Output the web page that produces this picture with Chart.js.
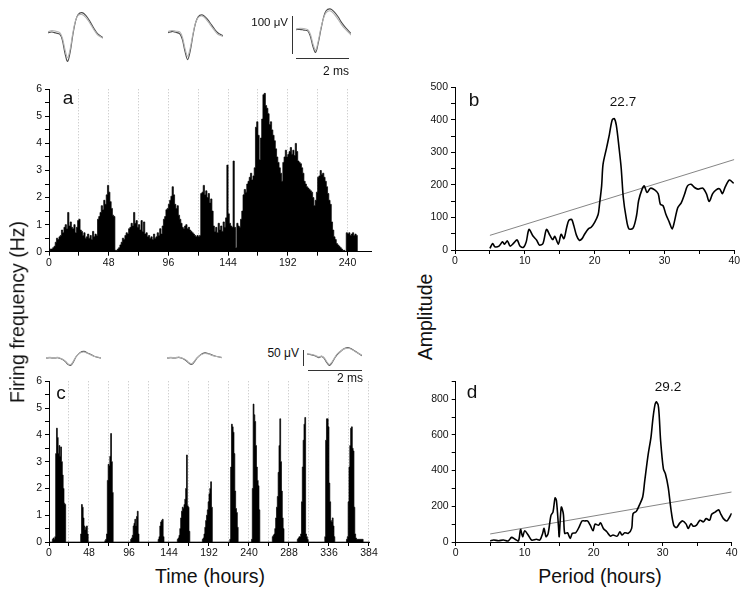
<!DOCTYPE html>
<html>
<head>
<meta charset="utf-8">
<script src="https://cdn.jsdelivr.net/npm/chart.js@4.4.0/dist/chart.umd.min.js"></script>
<style>
    body { margin: 0; background: #fff; }
    #figura { position: relative; width: 749px; height: 597px; overflow: hidden; font-family: "Liberation Sans", Arial, sans-serif; color: #111; }
    #figura canvas { position: absolute; }
    .txt { position: absolute; white-space: nowrap; line-height: 1; transform: translate(-50%, -50%); }
    .der { position: absolute; white-space: nowrap; line-height: 1; transform: translate(-100%, -50%); }
    .vert { position: absolute; white-space: nowrap; line-height: 1; transform: translate(-50%, -50%) rotate(-90deg); font-size: 19.5px; }
    .barra { position: absolute; background: #333; }
</style>
</head>
<body>
<div id="figura">
    <canvas id="ondaA1" width="55" height="53" style="left:48px;top:10px"></canvas>
    <canvas id="ondaA2" width="55" height="53" style="left:168px;top:10px"></canvas>
    <canvas id="ondaA3" width="55" height="53" style="left:296px;top:7px"></canvas>
    <canvas id="ondaC1" width="55" height="21" style="left:46px;top:349px"></canvas>
    <canvas id="ondaC2" width="55" height="21" style="left:167px;top:349px"></canvas>
    <canvas id="ondaC3" width="55" height="21" style="left:307px;top:345px"></canvas>

    <canvas id="graficoA" width="380" height="195" style="left:0;top:80px"></canvas>
    <canvas id="graficoC" width="380" height="190" style="left:0;top:372px"></canvas>
    <canvas id="graficoB" width="345" height="195" style="left:400px;top:78px"></canvas>
    <canvas id="graficoD" width="345" height="190" style="left:400px;top:372px"></canvas>

    <div class="barra" style="left:292px;top:16px;width:1.4px;height:38px"></div>
    <div class="barra" style="left:296px;top:58px;width:53px;height:1.4px"></div>
    <div class="der" style="left:288px;top:23px;font-size:11.5px">100 μV</div>
    <div class="der" style="left:349px;top:71px;font-size:12px">2 ms</div>

    <div class="barra" style="left:303px;top:350px;width:1.4px;height:16px"></div>
    <div class="barra" style="left:308px;top:370px;width:54px;height:1.4px"></div>
    <div class="der" style="left:299px;top:353px;font-size:12px">50 μV</div>
    <div class="der" style="left:363px;top:378px;font-size:12px">2 ms</div>

    <div class="txt" style="left:68px;top:97px;font-size:19px">a</div>
    <div class="txt" style="left:474px;top:99px;font-size:19px">b</div>
    <div class="txt" style="left:61px;top:392px;font-size:19px">c</div>
    <div class="txt" style="left:472px;top:391px;font-size:19px">d</div>
    <div class="txt" style="left:623px;top:102px;font-size:13.5px">22.7</div>
    <div class="txt" style="left:668px;top:387px;font-size:13.5px">29.2</div>

    <div class="vert" style="left:18px;top:312px">Firing frequency (Hz)</div>
    <div class="vert" style="left:426px;top:317px">Amplitude</div>
    <div class="txt" style="left:210px;top:577px;font-size:19.5px">Time (hours)</div>
    <div class="txt" style="left:600px;top:577px;font-size:19.5px">Period (hours)</div>
</div>
<script>
// panel a: frecuencia por hora (Hz), una fila por dia
const horasA = [
    0.05, 0.1, 0.1, 0.15, 0.2, 0.35, 0.5, 0.45, 0.55, 0.6, 0.8, 0.7, 0.9, 1.0, 0.85, 1.45, 0.95, 1.1, 0.9, 0.85, 1.0, 0.7, 0.9, 1.15,
    1.2, 0.8, 0.75, 0.6, 0.7, 0.5, 0.55, 0.65, 0.5, 0.6, 0.45, 0.75, 0.55, 0.65, 0.6, 1.2, 1.3, 1.45, 1.7, 1.55, 1.9, 1.75, 2.1, 2.45,
    2.2, 1.85, 1.6, 1.35, 1.3, 0.05, 0.05, 0.1, 0.15, 0.25, 0.35, 0.5, 0.45, 0.6, 0.7, 0.65, 0.85, 0.9, 1.05, 0.95, 1.45, 1.05, 1.15, 0.9,
    1.0, 0.8, 1.15, 0.75, 1.1, 0.65, 0.7, 0.55, 0.6, 0.5, 0.55, 0.45, 0.65, 0.5, 0.55, 0.7, 0.6, 0.85, 0.65, 0.95, 1.2, 1.3, 1.55, 1.6,
    1.75, 1.9, 2.05, 2.4, 2.1, 1.75, 1.6, 1.7, 1.35, 1.2, 1.05, 0.9, 0.85, 0.95, 1.0, 0.85, 0.9, 0.8, 0.75, 0.7, 0.65, 0.6, 0.55, 0.6,
    0.55, 0.6, 2.15, 2.2, 2.45, 2.1, 2.25, 2.0, 2.15, 1.8, 1.95, 1.5, 0.95, 0.75, 0.9, 0.7, 1.05, 0.8, 0.95, 0.75, 1.1, 0.9, 1.25, 3.2,
    1.4, 1.05, 0.95, 0.9, 3.35, 0.9, 0.15, 1.05, 0.95, 0.9, 1.2, 1.5, 2.1, 2.3, 2.2, 2.5, 2.6, 2.75, 2.9, 2.65, 2.8, 3.1, 4.6, 4.8,
    4.3, 3.4, 4.2, 4.9, 5.8, 5.85, 5.4, 5.3, 5.1, 4.7, 4.8, 4.5, 4.3, 4.1, 3.8, 3.5, 3.3, 3.1, 2.9, 2.6, 3.3, 3.5, 3.75, 3.5,
    3.6, 3.7, 3.85, 3.6, 3.75, 3.55, 4.0, 3.7, 3.35, 3.3, 3.25, 3.1, 2.9, 2.6, 2.5, 2.4, 2.35, 2.3, 2.25, 2.2, 2.0, 1.7, 1.9, 2.2,
    2.75, 2.8, 3.0, 2.85, 2.9, 2.75, 2.6, 2.4, 2.15, 1.9, 1.75, 1.1, 0.8, 0.55, 0.45, 0.3, 0.25, 0.2, 0.15, 0.1, 0.05, 0.05, 0, 0.7,
    0.65, 0.7, 0.6, 0.65, 0.7, 0.6, 0.65, 0.6
];

// panel c: brotes de actividad (hora de inicio y valores por hora)
const inicioBrotesC = [4, 38, 67, 98, 131, 154, 184, 217, 243, 268, 298, 331, 357];
const brotesC = [
    [0.1, 0.15, 0.1, 0.2, 3.3, 4.25, 3.9, 3.3, 3.6, 3.2, 3.55, 3.0, 2.5, 2.0, 1.45, 1.4],
    [0.3, 1.4, 1.3, 0.9, 0.6, 0.45, 0.55, 0.6, 0.3],
    [0.05, 0.1, 0.3, 2.3, 2.9, 2.85, 3.2, 4.05, 3.0, 1.85],
    [0.1, 0.15, 0.25, 0.6, 0.7, 0.85, 0.6, 0.95, 1.15, 0.3],
    [0.1, 0.2, 0.6, 0.75, 0.8, 0.85, 0.2],
    [0.1, 0.15, 0.25, 0.5, 0.9, 1.15, 1.3, 1.25, 1.4, 1.6, 2.0, 3.25, 1.35, 1.3, 0.4],
    [0.1, 0.15, 0.3, 0.55, 0.8, 1.0, 1.2, 1.5, 1.8, 2.0, 2.25, 1.3],
    [0.1, 2.8, 4.4, 4.3, 4.1, 3.3, 1.9, 1.25, 1.1, 0.55],
    [0.1, 2.0, 5.15, 4.75, 4.5, 3.6, 2.8, 2.3, 2.1, 1.2],
    [0.2, 0.25, 0.3, 0.5, 0.9, 1.3, 1.7, 2.6, 3.6, 4.6, 3.0, 1.9, 0.9, 0.5],
    [0.1, 0.15, 0.2, 0.2, 0.3, 1.5, 2.8, 3.8, 4.4, 4.65, 0.3, 0.2, 0.1],
    [0.2, 3.8, 4.6, 4.6, 4.3, 2.2, 1.5, 0.8, 0.75, 0.9, 0.6, 0.2],
    [0.1, 0.2, 1.5, 2.8, 3.6, 4.25, 4.3, 3.5, 3.4, 1.3, 0.3, 0.15, 0.1, 0.1, 0.1, 0.1, 0.1, 0.1, 0.1, 0.1]
];
const totalHorasC = 386;

// panel b: periodograma
const periodoB = [5.0, 5.4, 5.7, 6.3, 6.8, 7.1, 7.5, 7.9, 8.4, 8.9, 9.3, 9.8, 10.2, 10.6, 11.2, 11.7, 12.1, 12.6, 13.1, 13.6,
    14.0, 14.3, 14.8, 15.2, 15.6, 16.0, 16.3, 16.7, 17.0, 17.4, 17.8, 18.2, 18.6, 19.1, 19.5, 20.0, 20.5, 20.7, 21.0, 21.2,
    21.7, 22.1, 22.5, 22.8, 23.1, 23.5, 23.8, 24.1, 24.5, 24.9, 25.5, 26.0, 26.3, 26.8, 27.1, 27.5, 28.0, 28.6, 29.1, 29.4,
    29.8, 30.2, 30.7, 31.1, 31.4, 31.9, 32.4, 32.9, 33.3, 33.8, 34.3, 34.8, 35.5, 36.0, 36.4, 36.9, 37.4, 37.9, 38.3, 38.7, 39.3, 39.9];
const amplitudB = [5, 20, 10, 12, 25, 18, 28, 12, 21, 31, 12, 8, 25, 63, 42, 30, 15, 20, 63, 45,
    32, 42, 18, 48, 35, 70, 91, 94, 76, 45, 30, 35, 50, 65, 70, 85, 109, 141, 197, 263,
    313, 354, 399, 404, 384, 313, 252, 162, 101, 65, 67, 106, 152, 187, 197, 177, 190, 185, 173, 141,
    136, 110, 85, 65, 85, 130, 145, 173, 197, 202, 192, 187, 190, 173, 149, 173, 185, 188, 173, 194, 215, 205];

// panel d: periodograma
const periodoD = [5.0, 5.5, 6.2, 6.9, 7.6, 8.1, 8.6, 9.1, 9.4, 9.7, 10.0, 10.5, 11.0, 11.7, 12.2, 12.6, 12.8, 13.1, 13.4, 13.8,
    14.1, 14.4, 14.6, 14.9, 15.0, 15.3, 15.6, 15.8, 16.2, 16.6, 16.9, 17.4, 17.9, 18.3, 18.7, 19.1, 19.5, 19.9, 20.2, 20.7,
    21.0, 21.4, 21.9, 22.4, 22.8, 23.4, 23.8, 24.1, 24.5, 25.0, 25.5, 25.7, 26.2, 26.6, 27.1, 27.4, 27.9, 28.3, 28.6, 28.9,
    29.1, 29.4, 29.7, 30.1, 30.4, 30.8, 31.2, 31.6, 32.0, 32.5, 32.9, 33.4, 33.7, 34.1, 34.4, 34.9, 35.4, 35.9, 36.3, 36.8,
    37.1, 37.6, 38.1, 38.4, 38.8, 39.3, 39.7, 40.0];
const amplitudD = [6, 11, 7, 11, 6, 26, 15, 7, 70, 30, 63, 39, 11, 15, 11, 48, 76, 30, 48, 148,
    167, 247, 232, 85, 30, 195, 158, 48, 52, 20, 48, 52, 85, 118, 118, 118, 94, 63, 100, 94,
    107, 76, 57, 33, 39, 33, 57, 39, 52, 48, 76, 158, 173, 205, 252, 344, 492, 586, 697, 772,
    785, 753, 567, 409, 381, 306, 182, 94, 81, 107, 118, 100, 76, 103, 89, 94, 122, 113, 131, 122,
    155, 167, 180, 158, 131, 118, 140, 161];

// linea de significancia
const umbralX = [5, 40];
const umbralB = [45, 278];
const umbralD = [45, 280];

// formas de onda (ms, µV): trazo claro y trazo oscuro
const ondaT = [0, 0.15, 0.3, 0.45, 0.55, 0.65, 0.75, 0.85, 0.95, 1.05, 1.15, 1.3, 1.45, 1.6, 1.75, 1.9, 2.1];
const ondaA1 = [[2, 6, 4, 0, -14, -45, -66, -42, 0, 32, 46, 48, 40, 25, 8, -6, -15], [0, 2, -1, -4, -20, -55, -76, -50, -5, 30, 48, 53, 45, 30, 12, -3, -13]];
const ondaA2 = [[3, 6, 4, 2, -12, -42, -62, -40, -4, 26, 40, 44, 36, 22, 8, -4, -10], [0, 3, 1, -3, -18, -50, -71, -48, -8, 25, 42, 47, 40, 27, 12, 0, -8]];
const ondaA3 = [[2, 4, 3, 0, -12, -38, -54, -30, 4, 30, 45, 50, 42, 28, 12, 0, -14], [0, 1, -1, -3, -18, -45, -60, -35, 0, 32, 50, 55, 48, 35, 18, 5, -10]];
const ondaC1 = [[1, 2, 1, 2, -1, -5, -11, -20, -22, -10, 5, 17, 20, 15, 9, 4, 1], [0, 1, 0, 1, -2, -6, -13, -22, -24, -12, 4, 18, 22, 16, 10, 4, 0]];
const ondaC2 = [[1, 2, 1, 3, 1, -3, -8, -16, -19, -10, 1, 11, 15, 13, 8, 5, 2], [0, 1, 0, 2, 0, -4, -10, -18, -21, -12, 0, 12, 17, 14, 9, 5, 1]];
const ondaC3 = [[1, -1, -4, -10, -7, -12, -25, -35, -27, -13, 0, 11, 18, 19, 13, 5, -4], [0, -2, -6, -12, -8, -14, -28, -38, -30, -15, -2, 10, 19, 21, 14, 6, -6]];

Chart.defaults.font.family = "'Liberation Sans', Arial, sans-serif";
Chart.defaults.color = "#111";

const fuenteTicks = { size: 10.5 };
const opcionesBase = {
    responsive: false,
    animation: false,
    events: [],
    plugins: { legend: { display: false }, tooltip: { enabled: false } }
};

function ejeY(max, paso, cadaEtiqueta, ancho) {
    return {
        min: 0, max: max,
        ticks: { stepSize: paso, autoSkip: false, includeBounds: false, padding: 3, font: fuenteTicks,
            callback: v => (v % cadaEtiqueta === 0 && v + paso <= max + 1e-6) || v === max && max % cadaEtiqueta === 0 ? v : "" },
        grid: { drawOnChartArea: false, tickColor: "#000", tickLength: 4 },
        border: { color: "#000", width: 1 },
        afterFit: s => { s.width = ancho; }
    };
}

function graficoHistograma(id, valores, xMax, ancho, altoX, padding) {
    const puntos = valores.map((v, h) => ({ x: h, y: v }));
    puntos.push({ x: valores.length, y: 0 });
    return new Chart(document.getElementById(id), {
        type: "line",
        data: {
            datasets: [{
                data: puntos,
                stepped: true,
                fill: "origin",
                backgroundColor: "#000",
                borderColor: "#000",
                borderWidth: 0.7,
                pointRadius: 0
            }]
        },
        options: {
            ...opcionesBase,
            layout: { padding: padding },
            scales: {
                x: {
                    type: "linear", min: 0, max: xMax,
                    afterBuildTicks: s => { s.ticks = s.ticks.filter(t => t.value % 24 === 0); },
                    ticks: { stepSize: 24, autoSkip: false, includeBounds: false, maxRotation: 0, padding: 1, font: fuenteTicks,
                        callback: v => v % 48 === 0 ? v : "" },
                    grid: {
                        color: ctx => ctx.tick && ctx.tick.value > 0 ? "#bdbdbd" : "rgba(0,0,0,0)",
                        lineWidth: 1, tickColor: "#000", tickLength: 4
                    },
                    border: { color: "#000", width: 1, dash: [1, 2] },
                    afterFit: s => { s.height = altoX; }
                },
                y: ejeY(6, 0.5, 1, ancho)
            }
        }
    });
}

function graficoPeriodo(id, periodos, amplitudes, umbral, yMax, yPaso, yEtiqueta, ancho, altoX, padding) {
    return new Chart(document.getElementById(id), {
        type: "line",
        data: {
            datasets: [{
                data: periodos.map((p, i) => ({ x: p, y: amplitudes[i] })),
                borderColor: "#000",
                borderWidth: 1.6,
                pointRadius: 0,
                tension: 0.3
            }, {
                data: umbralX.map((p, i) => ({ x: p, y: umbral[i] })),
                borderColor: "#777",
                borderWidth: 0.9,
                pointRadius: 0
            }]
        },
        options: {
            ...opcionesBase,
            layout: { padding: padding },
            scales: {
                x: {
                    type: "linear", min: 0, max: 40,
                    ticks: { stepSize: 5, autoSkip: false, maxRotation: 0, padding: 1, font: fuenteTicks,
                        callback: v => v % 10 === 0 ? v : "" },
                    grid: { drawOnChartArea: false, tickColor: "#000", tickLength: 4 },
                    border: { color: "#000", width: 1 },
                    afterFit: s => { s.height = altoX; }
                },
                y: ejeY(yMax, yPaso, yEtiqueta, ancho)
            }
        }
    });
}

function graficoOnda(id, trazos, yMin, yMax) {
    return new Chart(document.getElementById(id), {
        type: "line",
        data: {
            datasets: trazos.map((trazo, i) => ({
                data: trazo.map((v, k) => ({ x: ondaT[k], y: v })),
                borderColor: i === 0 ? "#b3b3b3" : "#4d4d4d",
                borderWidth: 1.1,
                pointRadius: 0,
                tension: 0.35,
                clip: false
            }))
        },
        options: {
            ...opcionesBase,
            layout: { padding: 0 },
            scales: {
                x: { type: "linear", display: false, min: 0, max: 2.1 },
                y: { display: false, min: yMin, max: yMax }
            }
        }
    });
}

const horasC = new Array(totalHorasC).fill(0);
inicioBrotesC.forEach((inicio, i) => {
    brotesC[i].forEach((v, k) => { horasC[inicio + k] = v; });
});

graficoHistograma("graficoA", horasA, 259, 49, 23.3, { top: 7.7, right: 8.9, left: 0, bottom: 0 });
graficoHistograma("graficoC", horasC, 385, 49, 20, { top: 7.3, right: 10.2, left: 0, bottom: 0 });
graficoPeriodo("graficoB", periodoB, amplitudB, umbralB, 500, 50, 100, 55, 23, { top: 7.7, right: 10.7, left: 0, bottom: 0 });
graficoPeriodo("graficoD", periodoD, amplitudD, umbralD, 900, 100, 200, 55.7, 20, { top: 8.4, right: 13.3, left: 0, bottom: 0 });

graficoOnda("ondaA1", ondaA1, -80, 60);
graficoOnda("ondaA2", ondaA2, -80, 60);
graficoOnda("ondaA3", ondaA3, -80, 60);
graficoOnda("ondaC1", ondaC1, -40, 30);
graficoOnda("ondaC2", ondaC2, -40, 30);
graficoOnda("ondaC3", ondaC3, -40, 30);
</script>
</body>
</html>
